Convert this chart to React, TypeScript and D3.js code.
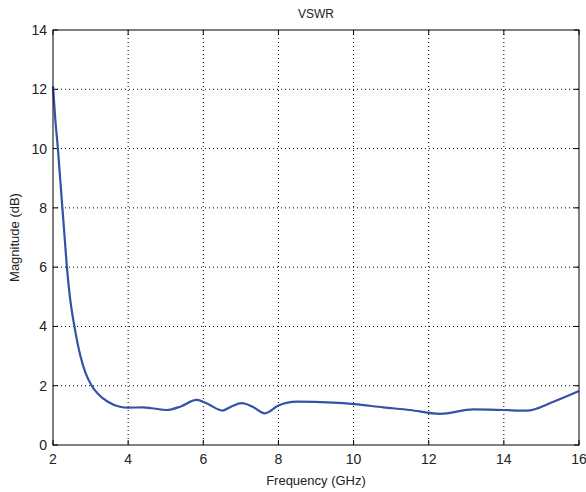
import * as d3 from "d3";

const W = 586;
const H = 492;
const M = { left: 53, right: 7, top: 30, bottom: 47 };

const freq = [
  2.0, 2.06, 2.13, 2.19, 2.25, 2.31, 2.37, 2.45, 2.57, 2.73, 2.86, 3.03, 3.2, 3.46,
  3.78, 4.0, 4.4, 4.63, 5.03, 5.4, 5.82, 6.1, 6.51, 6.75, 7.02, 7.3, 7.64, 8.0,
  8.49, 9.46, 10.02, 10.79, 11.5, 12.3, 13.19, 14.0, 14.61, 15.32, 16.0,
];
const vswr = [
  12.1, 11.0, 10.0, 9.0, 8.0, 7.0, 6.0, 5.0, 4.0, 3.0, 2.45, 2.0, 1.72, 1.46,
  1.29, 1.26, 1.27, 1.24, 1.18, 1.3, 1.52, 1.4, 1.16, 1.3, 1.41, 1.3, 1.07, 1.33,
  1.46, 1.43, 1.38, 1.27, 1.18, 1.05, 1.2, 1.18, 1.16, 1.46, 1.82,
];
const xTicks = [2, 4, 6, 8, 10, 12, 14, 16];
const yTicks = [0, 2, 4, 6, 8, 10, 12, 14];

export default function App() {
  const x = d3.scaleLinear().domain([2, 16]).range([M.left, W - M.right]);
  const y = d3.scaleLinear().domain([0, 14]).range([H - M.bottom, M.top]);
  const pts = freq.map((f, i) => [f, vswr[i]] as [number, number]);
  const line = d3
    .line<[number, number]>()
    .x((d) => x(d[0]))
    .y((d) => y(d[1]))
    .curve(d3.curveMonotoneX);

  const x0 = x(2), x1 = x(16), y0 = y(0), y1 = y(14);
  const font = "Liberation Sans, Arial, sans-serif";

  return (
    <svg
      width={W}
      height={H}
      style={{ position: "absolute", left: 0, top: 0, background: "#fff" }}
      fontFamily={font}
    >
      <rect width={W} height={H} fill="#fff" />
      {/* grid */}
      {xTicks.slice(1, -1).map((t) => (
        <line key={"gx" + t} x1={x(t)} x2={x(t)} y1={y1} y2={y0} stroke="#000" strokeWidth={1} strokeDasharray="1,3" />
      ))}
      {yTicks.slice(1, -1).map((t) => (
        <line key={"gy" + t} x1={x0} x2={x1} y1={y(t)} y2={y(t)} stroke="#000" strokeWidth={1} strokeDasharray="1,3" />
      ))}
      {/* ticks */}
      {xTicks.map((t) => (
        <g key={"tx" + t}>
          <line x1={x(t)} x2={x(t)} y1={y0} y2={y0 - 5} stroke="#000" />
          <line x1={x(t)} x2={x(t)} y1={y1} y2={y1 + 5} stroke="#000" />
          <text x={x(t)} y={y0 + 19} textAnchor="middle" fontSize={14} fill="#222">
            {t}
          </text>
        </g>
      ))}
      {yTicks.map((t) => (
        <g key={"ty" + t}>
          <line x1={x0} x2={x0 + 5} y1={y(t)} y2={y(t)} stroke="#000" />
          <line x1={x1} x2={x1 - 5} y1={y(t)} y2={y(t)} stroke="#000" />
          <text x={x0 - 6} y={y(t) + 5} textAnchor="end" fontSize={14} fill="#222">
            {t}
          </text>
        </g>
      ))}
      <path d={line(pts) ?? ""} fill="none" stroke="#3452a8" strokeWidth={2.2} />
      <rect x={x0} y={y1} width={x1 - x0} height={y0 - y1} fill="none" stroke="#000" strokeWidth={1} />
      <text x={(x0 + x1) / 2} y={18} textAnchor="middle" fontSize={12} fill="#222">
        VSWR
      </text>
      <text x={(x0 + x1) / 2} y={485} textAnchor="middle" fontSize={13} fill="#222">
        Frequency (GHz)
      </text>
      <text
        transform={`translate(19,${(y0 + y1) / 2}) rotate(-90)`}
        textAnchor="middle"
        fontSize={13}
        fill="#222"
      >
        Magnitude (dB)
      </text>
    </svg>
  );
}
